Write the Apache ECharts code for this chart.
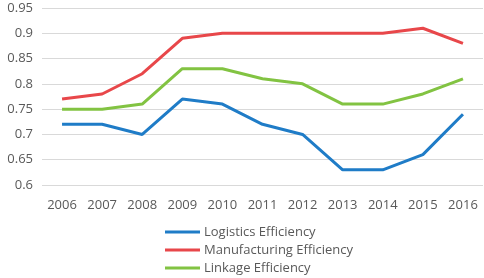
<!DOCTYPE html>
<html>
<head>
<meta charset="utf-8">
<script src="https://cdn.jsdelivr.net/npm/echarts@6/dist/echarts.min.js"></script>
<style>
  html, body { margin: 0; padding: 0; background: #fff; }
  #chart { width: 484px; height: 278px; }
</style>
</head>
<body>
<div id="chart"></div>
<script>
const years = ['2006', '2007', '2008', '2009', '2010', '2011', '2012', '2013', '2014', '2015', '2016']
const logistics = [0.72, 0.72, 0.70, 0.77, 0.76, 0.72, 0.70, 0.63, 0.63, 0.66, 0.74]
const manufacturing = [0.77, 0.78, 0.82, 0.89, 0.90, 0.90, 0.90, 0.90, 0.90, 0.91, 0.88]
const linkage = [0.75, 0.75, 0.76, 0.83, 0.83, 0.81, 0.80, 0.76, 0.76, 0.78, 0.81]

const font = '"Open Sans", sans-serif'
const textColor = '#595959'

function line(name, data, color) {
  return {
    name,
    type: 'line',
    data,
    symbol: 'none',
    color,
    lineStyle: { width: 3, color },
    animation: false
  }
}

const chart = echarts.init(document.getElementById('chart'))
chart.setOption({
  textStyle: { fontFamily: font },
  grid: { left: 42, right: 1, top: 8, bottom: 93 },
  xAxis: {
    type: 'category',
    data: years,
    boundaryGap: true,
    axisLine: { show: false },
    axisTick: { show: false },
    axisLabel: { color: textColor, fontSize: 13, fontFamily: font, margin: 14 }
  },
  yAxis: {
    type: 'value',
    min: 0.6,
    max: 0.95,
    interval: 0.05,
    axisLabel: {
      color: textColor,
      fontSize: 13,
      fontFamily: font,
      margin: 9,
      formatter: v => String(Math.round(v * 100) / 100)
    },
    splitLine: { lineStyle: { color: '#d9d9d9', width: 1 } }
  },
  legend: {
    orient: 'vertical',
    left: 165,
    top: 224,
    height: 60,
    padding: 0,
    icon: 'rect',
    itemWidth: 35,
    itemHeight: 3,
    itemGap: 2,
    textStyle: { color: textColor, fontSize: 13, fontFamily: font, lineHeight: 16, padding: [0, 0, 0, -1] },
    data: ['Logistics Efficiency', 'Manufacturing Efficiency', 'Linkage Efficiency']
  },
  series: [
    line('Logistics Efficiency', logistics, '#1f7cc7'),
    line('Manufacturing Efficiency', manufacturing, '#e8474a'),
    line('Linkage Efficiency', linkage, '#82c342')
  ]
})
</script>
</body>
</html>
